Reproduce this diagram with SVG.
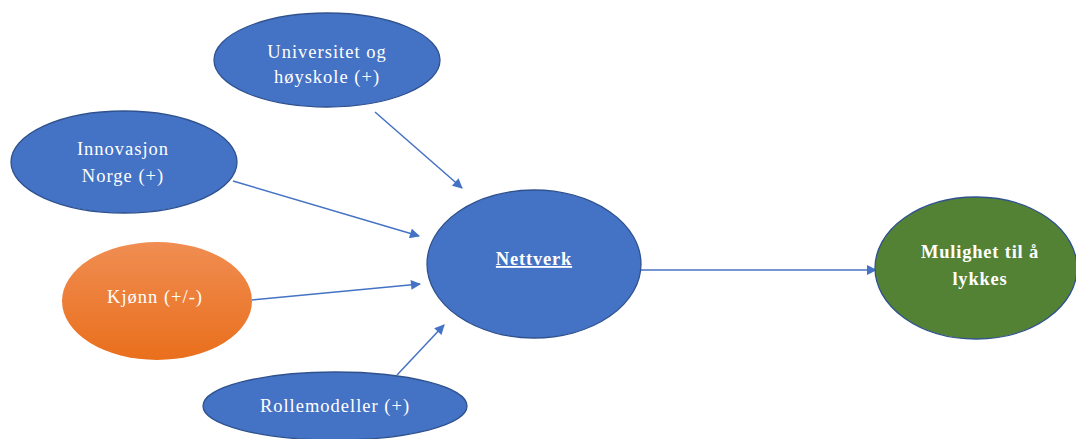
<svg xmlns="http://www.w3.org/2000/svg" width="1076" height="439" viewBox="0 0 1076 439">
<defs>
<style>
.blue{fill:#4472C4;stroke:#2F528F;stroke-width:1.3}
.orange{fill:url(#og);stroke:none}
.green{fill:#548235;stroke:#2F528F;stroke-width:1.3}
.t{font-family:"Liberation Serif","Times New Roman",serif;font-size:18.5px;fill:#ffffff;text-anchor:middle;letter-spacing:1px}
.b{font-weight:bold;letter-spacing:0.8px}
.c{stroke:#4472C4;stroke-width:1.5;fill:none;marker-end:url(#ah)}
</style>
<linearGradient id="og" x1="0" y1="0" x2="0" y2="1">
<stop offset="0" stop-color="#F08D52"/>
<stop offset="1" stop-color="#E96F1C"/>
</linearGradient>
<marker id="ah" viewBox="0 0 10 10" refX="9" refY="5" markerWidth="11" markerHeight="10" markerUnits="userSpaceOnUse" orient="auto">
<path d="M0,0 L10,5 L0,10 z" fill="#4472C4"/>
</marker>
</defs>
<rect width="1076" height="439" fill="#ffffff"/>
<g id="connectors">
<line class="c" x1="375" y1="112" x2="462" y2="188"/>
<line class="c" x1="233" y1="181" x2="419" y2="236"/>
<line class="c" x1="252" y1="300" x2="420" y2="284"/>
<line class="c" x1="397" y1="375" x2="444" y2="325"/>
<line class="c" x1="641" y1="270" x2="876" y2="270"/>
</g>
<g id="universitet">
<ellipse class="blue" cx="327" cy="60" rx="113" ry="47"/>
<text class="t" x="327" y="58">Universitet og</text>
<text class="t" x="327" y="83">høyskole (+)</text>
</g>
<g id="innovasjon">
<ellipse class="blue" cx="124" cy="162" rx="113" ry="51"/>
<text class="t" x="123" y="155">Innovasjon</text>
<text class="t" x="123" y="182">Norge (+)</text>
</g>
<g id="kjonn">
<ellipse class="orange" cx="157" cy="301" rx="95" ry="59"/>
<text class="t" x="155" y="303">Kjønn (+/-)</text>
</g>
<g id="rollemodeller">
<ellipse class="blue" cx="335" cy="406" rx="132" ry="34"/>
<text class="t" x="335" y="412">Rollemodeller (+)</text>
</g>
<g id="nettverk">
<ellipse class="blue" cx="534" cy="264" rx="107" ry="74"/>
<text class="t b" x="534" y="265" text-decoration="underline">Nettverk</text>
</g>
<g id="mulighet">
<ellipse class="green" cx="976" cy="268" rx="101" ry="71"/>
<text class="t b" x="980" y="258">Mulighet til å</text>
<text class="t b" x="980" y="285">lykkes</text>
</g>
</svg>
